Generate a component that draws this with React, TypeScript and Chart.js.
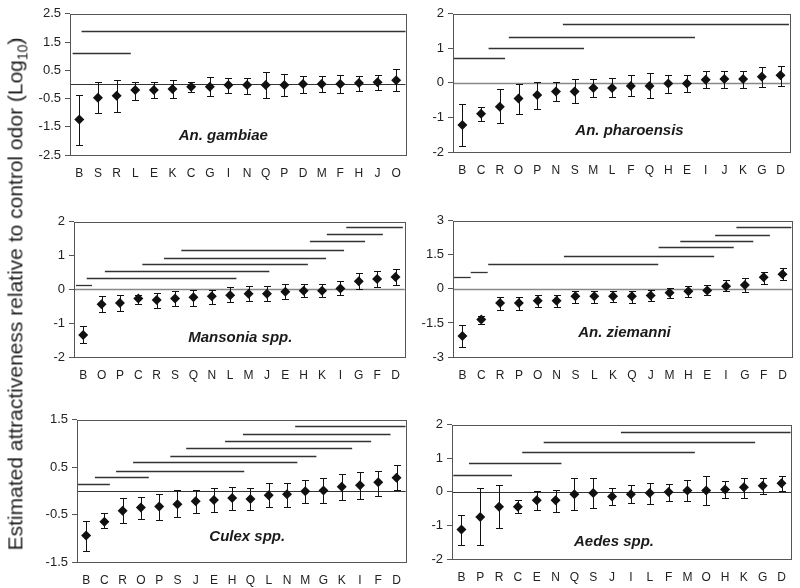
import React, { useEffect, useRef } from "react";
import { Chart, registerables } from "chart.js";
Chart.register(...registerables);

const FONT = "'Liberation Sans', Arial, Helvetica, sans-serif";

// ---------- An. gambiae ----------
const gambiaeCats = ["B", "S", "R", "L", "E", "K", "C", "G", "I", "N", "Q", "P", "D", "M", "F", "H", "J", "O"];
const gambiaeMean = [-1.24, -0.47, -0.4, -0.2, -0.2, -0.16, -0.08, -0.08, -0.02, -0.02, -0.02, -0.02, 0.01, 0.01, 0.01, 0.05, 0.08, 0.15];
const gambiaeHi = [-0.36, 0.1, 0.15, 0.1, 0.08, 0.15, 0.1, 0.27, 0.23, 0.23, 0.43, 0.38, 0.3, 0.3, 0.35, 0.3, 0.35, 0.53];
const gambiaeLo = [-2.16, -1.01, -0.97, -0.55, -0.47, -0.47, -0.26, -0.42, -0.3, -0.35, -0.47, -0.42, -0.3, -0.28, -0.3, -0.23, -0.2, -0.23];
const gambiaeSig = [[0.12, 17.5, 1.88], [-0.36, 2.76, 1.1]];

// ---------- An. pharoensis ----------
const pharoCats = ["B", "C", "R", "O", "P", "N", "S", "M", "L", "F", "Q", "H", "E", "I", "J", "K", "G", "D"];
const pharoMean = [-1.22, -0.89, -0.69, -0.45, -0.35, -0.25, -0.25, -0.15, -0.15, -0.09, -0.09, -0.02, -0.02, 0.09, 0.11, 0.11, 0.18, 0.22];
const pharoHi = [-0.62, -0.69, -0.18, -0.02, 0.02, 0.02, 0.11, 0.11, 0.15, 0.22, 0.29, 0.22, 0.22, 0.35, 0.35, 0.35, 0.45, 0.49];
const pharoLo = [-1.82, -1.11, -1.15, -0.89, -0.75, -0.51, -0.58, -0.42, -0.42, -0.38, -0.45, -0.29, -0.25, -0.15, -0.15, -0.15, -0.11, -0.09];
const pharoSig = [[5.37, 17.45, 1.7], [2.48, 12.43, 1.33], [1.4, 6.5, 1.02], [-0.48, 2.28, 0.72]];

// ---------- Mansonia spp. ----------
const mansCats = ["B", "O", "P", "C", "R", "S", "Q", "N", "L", "M", "J", "E", "H", "K", "I", "G", "F", "D"];
const mansMean = [-1.35, -0.44, -0.4, -0.27, -0.31, -0.27, -0.23, -0.2, -0.17, -0.13, -0.13, -0.07, -0.04, -0.04, 0.03, 0.24, 0.31, 0.37];
const mansHi = [-1.09, -0.2, -0.16, -0.16, -0.1, -0.05, -0.02, -0.02, 0.07, 0.1, 0.1, 0.15, 0.17, 0.17, 0.26, 0.5, 0.54, 0.59];
const mansLo = [-1.6, -0.67, -0.64, -0.43, -0.55, -0.5, -0.5, -0.43, -0.36, -0.34, -0.34, -0.27, -0.23, -0.23, -0.18, 0.0, 0.07, 0.13];
const mansSig = [[-0.39, 0.48, 0.14], [0.19, 8.34, 0.34], [1.18, 10.13, 0.53], [3.22, 12.23, 0.74], [4.4, 13.22, 0.94], [5.34, 14.2, 1.17], [12.34, 15.34, 1.42], [13.26, 16.31, 1.65], [14.32, 17.4, 1.85]];

// ---------- An. ziemanni ----------
const ziemCats = ["B", "C", "R", "P", "O", "N", "S", "L", "K", "Q", "J", "M", "H", "E", "I", "G", "F", "D"];
const ziemMean = [-2.07, -1.35, -0.62, -0.62, -0.52, -0.52, -0.32, -0.32, -0.32, -0.32, -0.29, -0.17, -0.1, -0.07, 0.12, 0.17, 0.51, 0.65];
const ziemHi = [-1.57, -1.19, -0.35, -0.35, -0.25, -0.25, -0.09, -0.1, -0.1, -0.1, -0.06, 0.04, 0.14, 0.16, 0.38, 0.48, 0.75, 0.93];
const ziemLo = [-2.58, -1.54, -0.91, -0.91, -0.8, -0.8, -0.62, -0.62, -0.58, -0.62, -0.55, -0.39, -0.35, -0.29, -0.1, -0.12, 0.22, 0.38];
const ziemSig = [[-0.48, 0.44, 0.52], [0.44, 1.34, 0.75], [1.37, 10.4, 1.09], [5.39, 13.37, 1.45], [10.42, 14.41, 1.84], [11.57, 15.45, 2.1], [13.42, 16.33, 2.39], [14.55, 17.47, 2.71]];

// ---------- Culex spp. ----------
const culexCats = ["B", "C", "R", "O", "P", "S", "J", "E", "H", "Q", "L", "N", "M", "G", "K", "I", "F", "D"];
const culexMean = [-0.94, -0.65, -0.42, -0.35, -0.33, -0.28, -0.22, -0.19, -0.15, -0.17, -0.09, -0.07, -0.01, 0.01, 0.09, 0.12, 0.18, 0.28];
const culexHi = [-0.63, -0.47, -0.15, -0.12, -0.07, 0.01, 0.01, 0.06, 0.09, 0.06, 0.17, 0.17, 0.22, 0.27, 0.35, 0.4, 0.43, 0.55];
const culexLo = [-1.26, -0.79, -0.67, -0.59, -0.62, -0.56, -0.47, -0.44, -0.4, -0.4, -0.33, -0.33, -0.26, -0.26, -0.19, -0.17, -0.11, 0.01];
const culexSig = [[-0.52, 1.3, 0.15], [0.48, 3.43, 0.29], [1.64, 8.66, 0.43], [2.57, 11.57, 0.6], [4.61, 12.61, 0.74], [5.48, 14.57, 0.9], [7.61, 15.61, 1.05], [8.59, 16.67, 1.2], [11.45, 17.49, 1.36]];

// ---------- Aedes spp. ----------
const aedesCats = ["B", "P", "R", "C", "E", "N", "Q", "S", "J", "I", "L", "F", "M", "O", "H", "K", "G", "D"];
const aedesMean = [-1.12, -0.75, -0.44, -0.44, -0.25, -0.25, -0.07, -0.03, -0.14, -0.07, -0.03, 0.0, 0.04, 0.04, 0.07, 0.14, 0.18, 0.26];
const aedesHi = [-0.69, 0.11, 0.21, -0.24, 0.02, 0.07, 0.41, 0.41, 0.11, 0.21, 0.28, 0.24, 0.34, 0.48, 0.31, 0.41, 0.41, 0.48];
const aedesLo = [-1.58, -1.58, -1.09, -0.64, -0.54, -0.61, -0.54, -0.47, -0.4, -0.33, -0.37, -0.26, -0.26, -0.4, -0.17, -0.17, -0.06, 0.04];
const aedesSig = [[-0.43, 2.69, 0.49], [0.4, 5.31, 0.87], [3.23, 12.4, 1.2], [4.37, 15.6, 1.5], [8.47, 17.48, 1.79]];

type PanelCfg = {
  cats: string[];
  mean: number[];
  hi: number[];
  lo: number[];
  sig: number[][];
  title: string;
  yMin: number;
  yMax: number;
  yStep: number;
  area: { l: number; r: number; t: number; b: number };
  titlePos: [number, number];
  zeroColor: string;
  zeroWidth: number;
};

const panels: PanelCfg[] = [
  { cats: gambiaeCats, mean: gambiaeMean, hi: gambiaeHi, lo: gambiaeLo, sig: gambiaeSig, title: "An. gambiae", yMin: -2.5, yMax: 2.5, yStep: 1, area: { l: 70, r: 407, t: 12, b: 155 }, titlePos: [0.457, 0.867], zeroColor: "#333", zeroWidth: 1 },
  { cats: pharoCats, mean: pharoMean, hi: pharoHi, lo: pharoLo, sig: pharoSig, title: "An. pharoensis", yMin: -2, yMax: 2, yStep: 1, area: { l: 453, r: 791, t: 12, b: 152 }, titlePos: [0.524, 0.85], zeroColor: "#888", zeroWidth: 1.5 },
  { cats: mansCats, mean: mansMean, hi: mansHi, lo: mansLo, sig: mansSig, title: "Mansonia spp.", yMin: -2, yMax: 2, yStep: 1, area: { l: 74, r: 406, t: 220, b: 357 }, titlePos: [0.503, 0.861], zeroColor: "#888", zeroWidth: 1.5 },
  { cats: ziemCats, mean: ziemMean, hi: ziemHi, lo: ziemLo, sig: ziemSig, title: "An. ziemanni", yMin: -3, yMax: 3, yStep: 1.5, area: { l: 453, r: 793, t: 219, b: 357 }, titlePos: [0.506, 0.826], zeroColor: "#888", zeroWidth: 1.5 },
  { cats: culexCats, mean: culexMean, hi: culexHi, lo: culexLo, sig: culexSig, title: "Culex spp.", yMin: -1.5, yMax: 1.5, yStep: 1, area: { l: 77, r: 407, t: 418, b: 562 }, titlePos: [0.518, 0.826], zeroColor: "#333", zeroWidth: 1 },
  { cats: aedesCats, mean: aedesMean, hi: aedesHi, lo: aedesLo, sig: aedesSig, title: "Aedes spp.", yMin: -2, yMax: 2, yStep: 1, area: { l: 452, r: 792, t: 423, b: 559 }, titlePos: [0.478, 0.875], zeroColor: "#333", zeroWidth: 1 },
];

const YW = 50;
const XH = 30;
const PT = 10;
const PR = 5;

function makePlugin(cfg: PanelCfg) {
  return {
    id: "panelDeco",
    beforeDatasetsDraw(chart: any) {
      const { ctx, chartArea: a, scales } = chart;
      const x = scales.x;
      const y = scales.y;
      ctx.save();
      const y0 = Math.round(y.getPixelForValue(0)) + 0.5;
      ctx.strokeStyle = cfg.zeroColor;
      ctx.lineWidth = cfg.zeroWidth;
      ctx.beginPath();
      ctx.moveTo(a.left, y0);
      ctx.lineTo(a.right, y0);
      ctx.stroke();
      ctx.strokeStyle = "#333";
      ctx.lineWidth = 1.3;
      cfg.sig.forEach(([s, e, v]) => {
        const py = Math.round(y.getPixelForValue(v)) + 0.5;
        const px0 = Math.max(a.left, x.getPixelForValue(s));
        const px1 = Math.min(a.right, x.getPixelForValue(e));
        ctx.beginPath();
        ctx.moveTo(px0, py);
        ctx.lineTo(px1, py);
        ctx.stroke();
      });
      ctx.strokeStyle = "#111";
      ctx.lineWidth = 1;
      cfg.cats.forEach((_, i) => {
        const px = Math.round(x.getPixelForValue(i)) + 0.5;
        const ph = Math.round(y.getPixelForValue(cfg.hi[i])) + 0.5;
        const pl = Math.round(y.getPixelForValue(cfg.lo[i])) + 0.5;
        ctx.beginPath();
        ctx.moveTo(px, ph);
        ctx.lineTo(px, pl);
        ctx.moveTo(px - 3.5, ph);
        ctx.lineTo(px + 3.5, ph);
        ctx.moveTo(px - 3.5, pl);
        ctx.lineTo(px + 3.5, pl);
        ctx.stroke();
      });
      ctx.restore();
    },
    afterDraw(chart: any) {
      const { ctx, chartArea: a } = chart;
      ctx.save();
      ctx.strokeStyle = "#555";
      ctx.lineWidth = 1;
      ctx.strokeRect(Math.round(a.left) + 0.5, Math.round(a.top) + 0.5, Math.round(a.right - a.left), Math.round(a.bottom - a.top));
      ctx.fillStyle = "#1a1a1a";
      ctx.font = `italic bold 15px ${FONT}`;
      ctx.textAlign = "center";
      ctx.textBaseline = "middle";
      ctx.fillText(cfg.title, a.left + cfg.titlePos[0] * (a.right - a.left), a.top + cfg.titlePos[1] * (a.bottom - a.top));
      ctx.restore();
    },
  };
}

function Panel({ cfg }: { cfg: PanelCfg }) {
  const ref = useRef<HTMLCanvasElement>(null);
  const left = cfg.area.l - YW;
  const top = cfg.area.t - PT;
  const width = cfg.area.r + PR - left;
  const height = cfg.area.b + XH - top;

  useEffect(() => {
    if (!ref.current) return;
    const chart = new Chart(ref.current, {
      type: "line",
      data: {
        labels: cfg.cats,
        datasets: [
          {
            data: cfg.mean,
            showLine: false,
            pointStyle: "rectRot",
            pointRadius: 5,
            pointBackgroundColor: "#111",
            pointBorderColor: "#111",
            pointBorderWidth: 0,
          },
        ],
      },
      options: {
        animation: false,
        responsive: false,
        maintainAspectRatio: false,
        layout: { padding: { top: PT, right: PR, left: 0, bottom: 0 } },
        plugins: { legend: { display: false }, tooltip: { enabled: false } },
        scales: {
          x: {
            type: "category",
            offset: true,
            grid: { display: false, drawTicks: false },
            border: { display: false },
            ticks: { color: "#222", font: { family: FONT, size: 12 }, padding: 11, maxRotation: 0, autoSkip: false },
            afterFit: (s: any) => {
              s.height = XH;
            },
          },
          y: {
            type: "linear",
            min: cfg.yMin,
            max: cfg.yMax,
            grid: { display: true, drawOnChartArea: false, drawTicks: true, tickLength: 5, color: "#555" },
            border: { display: false },
            ticks: {
              stepSize: cfg.yStep,
              color: "#222",
              font: { family: FONT, size: 13 },
              padding: 4,
              callback: (v: any) => String(Math.round(Number(v) * 10) / 10),
            },
            afterFit: (s: any) => {
              s.width = YW;
            },
          },
        },
      },
      plugins: [makePlugin(cfg)],
    } as any);
    return () => chart.destroy();
  }, [cfg]);

  return (
    <canvas
      ref={ref}
      width={width}
      height={height}
      style={{ position: "absolute", left, top, width, height }}
    />
  );
}

export default function App() {
  return (
    <div style={{ position: "absolute", left: 0, top: 0, width: 800, height: 588, background: "#fff", overflow: "hidden" }}>
      {panels.map((p, i) => (
        <Panel key={i} cfg={p} />
      ))}
      <div
        style={{
          position: "absolute",
          left: 17,
          top: 294,
          transform: "translate(-50%, -50%) rotate(-90deg)",
          whiteSpace: "nowrap",
          fontFamily: FONT,
          fontSize: 21,
          color: "#222",
        }}
      >
        Estimated attractiveness relative to control odor (Log<sub style={{ fontSize: 14 }}>10</sub>)
      </div>
    </div>
  );
}
